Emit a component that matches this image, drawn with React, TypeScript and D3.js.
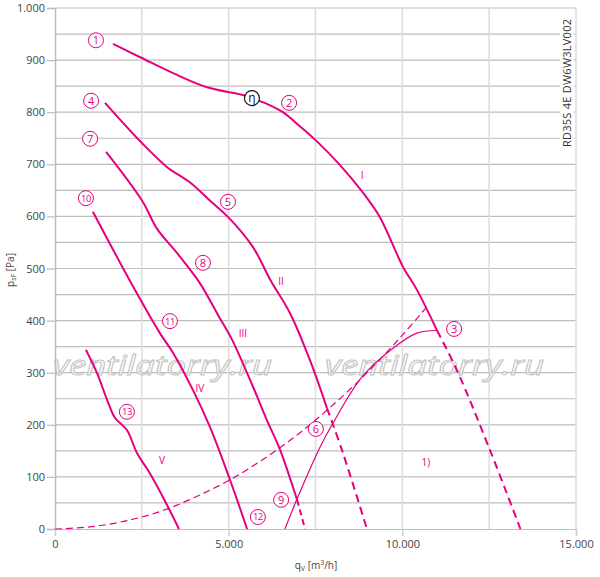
import { useEffect, useRef } from 'react';
import * as d3 from 'd3';

type Pt = [number, number];

// curve I (speed 1 -> 2 -> 3), solid part and dashed extension
const curveI: Pt[] = [[1670, 931], [2500, 904], [3400, 875], [4375, 848], [5410, 833], [5670, 827], [6100, 816], [6560, 800], [7050, 773], [7540, 744], [8200, 699], [8850, 647], [9350, 599], [9730, 545], [10020, 503], [10420, 459], [11000, 381]];
const curveIDash: Pt[] = [[11000, 381], [11570, 305], [12520, 152], [13400, 0]];
const curveII: Pt[] = [[1440, 818], [2500, 741], [3220, 695], [3890, 665], [4500, 628], [4980, 599], [5700, 541], [6200, 478], [6760, 415], [7340, 324], [7830, 232]];
const curveIIDash: Pt[] = [[7830, 232], [8290, 146], [8980, 0]];
const curveIII: Pt[] = [[1470, 724], [2500, 631], [2940, 576], [3510, 530], [4170, 472], [4700, 410], [5100, 363], [5700, 273], [6100, 209], [6480, 152], [6970, 56]];
const curveIIIDash: Pt[] = [[6970, 56], [7200, 0]];
const curveIV: Pt[] = [[1090, 609], [2300, 459], [3020, 376], [3400, 338], [3970, 267], [4460, 196], [5040, 94], [5530, 0]];
const curveV: Pt[] = [[890, 344], [1210, 299], [1500, 248], [1730, 213], [2070, 190], [2360, 146], [2730, 107], [3110, 61], [3570, 0]];
// system (parabola) line, dashed
const systemLine: Pt[] = [[0, 0], [1000, 4], [2000, 15], [3000, 33], [4000, 60], [5000, 93], [6000, 134], [7000, 182], [8000, 238], [9000, 301], [10000, 372], [10700, 426]];
// thin curve from 9 to 3
const limitLine: Pt[] = [[6620, 0], [6970, 58], [7630, 157], [8000, 203], [8840, 292], [9730, 347], [10420, 376], [11000, 381]];

const circleLabels: { t: string; x: number; y: number }[] = [
  { t: '1', x: 1180, y: 938 }, { t: '2', x: 6740, y: 818 }, { t: '3', x: 11490, y: 384 },
  { t: '4', x: 1040, y: 822 }, { t: '5', x: 4980, y: 628 }, { t: '6', x: 7510, y: 192 },
  { t: '7', x: 1010, y: 749 }, { t: '8', x: 4260, y: 511 }, { t: '9', x: 6510, y: 56 },
  { t: '10', x: 890, y: 635 }, { t: '11', x: 3310, y: 399 }, { t: '12', x: 5840, y: 23 },
  { t: '13', x: 2070, y: 225 },
];
const romanLabels: { t: string; x: number; y: number }[] = [
  { t: 'I', x: 8840, y: 678 }, { t: 'II', x: 6510, y: 476 }, { t: 'III', x: 5410, y: 376 },
  { t: 'IV', x: 4170, y: 269 }, { t: 'V', x: 3080, y: 131 }, { t: '1)', x: 10680, y: 127 },
];
const etaPoint: Pt = [5670, 827];

const yTicks = [0, 100, 200, 300, 400, 500, 600, 700, 800, 900, 1000];
const yTickLabels = ['0', '100', '200', '300', '400', '500', '600', '700', '800', '900', '1.000'];
const xTicks = [0, 5000, 10000, 15000];
const xTickLabels = ['0', '5.000', '10.000', '15.000'];

const MAGENTA = '#e5007d';
const FONT = '"Open Sans", sans-serif';

const App = () => {
  const ref = useRef<SVGSVGElement>(null);

  useEffect(() => {
    document.body.style.margin = '0';
    const svg = d3.select(ref.current);
    svg.selectAll('*').remove();

    const width = 600;
    const height = 577;
    const margin = { top: 8, right: 24, bottom: 48, left: 55 };

    const x = d3.scaleLinear().domain([0, 15000]).range([margin.left, width - margin.right]);
    const y = d3.scaleLinear().domain([0, 1000]).range([height - margin.bottom, margin.top]);

    svg.attr('width', width).attr('height', height).style('display', 'block');

    // horizontal grid every 50 Pa
    svg.append('g')
      .selectAll('line')
      .data(d3.range(50, 1001, 50))
      .enter()
      .append('line')
      .attr('x1', x(0))
      .attr('x2', x(15000))
      .attr('y1', (d) => y(d))
      .attr('y2', (d) => y(d))
      .attr('stroke', '#bdbdbd')
      .attr('stroke-width', 1.2);

    // vertical grid every 2500
    svg.append('g')
      .selectAll('line')
      .data(d3.range(2500, 15001, 2500))
      .enter()
      .append('line')
      .attr('x1', (d) => x(d))
      .attr('x2', (d) => x(d))
      .attr('y1', y(0))
      .attr('y2', y(1000))
      .attr('stroke', '#dcdcdc')
      .attr('stroke-width', 1.5);

    // watermark
    svg.append('g')
      .selectAll('text')
      .data([[53, 375], [325, 375]])
      .enter()
      .append('text')
      .attr('x', (d) => d[0])
      .attr('y', (d) => d[1])
      .attr('font-family', FONT)
      .attr('font-style', 'italic')
      .attr('font-size', 28)
      .attr('fill', 'white')
      .attr('fill-opacity', 0.6)
      .attr('stroke', '#c4c4c4')
      .attr('stroke-width', 1)
      .attr('textLength', 219)
      .attr('lengthAdjust', 'spacingAndGlyphs')
      .text('ventilatorry.ru');

    // axes
    const yAxis = d3.axisLeft(y)
      .tickValues(yTicks)
      .tickSize(8)
      .tickPadding(2)
      .tickFormat((_d, i) => yTickLabels[i]);
    const gy = svg.append('g').attr('transform', `translate(${margin.left},0)`).call(yAxis);
    gy.select('.domain').attr('stroke', '#bdbdbd').attr('stroke-width', 1.5);
    gy.selectAll('.tick line').attr('stroke', '#bdbdbd').attr('stroke-width', 1.2);
    gy.selectAll('.tick text').attr('font-family', FONT).attr('font-size', 11).attr('fill', '#444');

    const xAxis = d3.axisBottom(x)
      .tickValues(xTicks)
      .tickSize(7)
      .tickPadding(4)
      .tickFormat((_d, i) => xTickLabels[i]);
    const gx = svg.append('g').attr('transform', `translate(0,${y(0)})`).call(xAxis);
    gx.select('.domain').attr('stroke', '#bdbdbd').attr('stroke-width', 1.2);
    gx.selectAll('.tick line').attr('stroke', '#d0d0d0').attr('stroke-width', 1.5);
    gx.selectAll('.tick text').attr('font-family', FONT).attr('font-size', 11).attr('fill', '#444');

    // axis titles
    const xt = svg.append('text')
      .attr('x', 316)
      .attr('y', 569)
      .attr('text-anchor', 'middle')
      .attr('font-family', FONT)
      .attr('font-size', 10)
      .attr('fill', '#444');
    xt.append('tspan').text('q');
    xt.append('tspan').attr('font-size', 7).attr('dy', 2).text('V');
    xt.append('tspan').attr('dy', -2).text(' [m');
    xt.append('tspan').attr('font-size', 7).attr('dy', -4).text('3');
    xt.append('tspan').attr('dy', 4).text('/h]');

    const yt = svg.append('text')
      .attr('transform', 'translate(14,270) rotate(-90)')
      .attr('text-anchor', 'middle')
      .attr('font-family', FONT)
      .attr('font-size', 10)
      .attr('fill', '#444');
    yt.append('tspan').text('p');
    yt.append('tspan').attr('font-size', 7).attr('dy', 2).text('sF');
    yt.append('tspan').attr('dy', -2).text(' [Pa]');

    // type designation, vertical
    svg.append('rect')
      .attr('x', 560)
      .attr('y', 16)
      .attr('width', 14)
      .attr('height', 133)
      .attr('fill', 'white');
    svg.append('text')
      .attr('transform', 'translate(571,147) rotate(-90)')
      .attr('font-family', FONT)
      .attr('font-size', 11)
      .attr('fill', '#333')
      .attr('textLength', 128)
      .attr('lengthAdjust', 'spacing')
      .text('RD35S 4E DW6W3LV002');

    const line = d3.line<Pt>()
      .x((d) => x(d[0]))
      .y((d) => y(d[1]))
      .curve(d3.curveCatmullRom.alpha(0.5));

    const drawCurve = (pts: Pt[], w: number, dash: string | null) => {
      svg.append('path')
        .datum(pts)
        .attr('d', line)
        .attr('fill', 'none')
        .attr('stroke', MAGENTA)
        .attr('stroke-width', w)
        .attr('stroke-dasharray', dash);
    };

    drawCurve(systemLine, 1.2, '7,4');
    drawCurve(limitLine, 1.2, null);
    drawCurve(curveI, 2, null);
    drawCurve(curveIDash, 2, '8,5');
    drawCurve(curveII, 2, null);
    drawCurve(curveIIDash, 2, '8,5');
    drawCurve(curveIII, 2, null);
    drawCurve(curveIIIDash, 2, '6,4');
    drawCurve(curveIV, 2, null);
    drawCurve(curveV, 2, null);

    // circled point numbers
    const cl = svg.append('g')
      .selectAll('g')
      .data(circleLabels)
      .enter()
      .append('g')
      .attr('transform', (d) => `translate(${x(d.x)},${y(d.y)})`);
    cl.append('circle')
      .attr('r', 7.5)
      .attr('fill', 'white')
      .attr('stroke', MAGENTA)
      .attr('stroke-width', 1);
    cl.append('text')
      .attr('text-anchor', 'middle')
      .attr('dy', '0.36em')
      .attr('font-family', FONT)
      .attr('font-size', (d) => (d.t.length > 1 ? 9.5 : 11))
      .attr('letter-spacing', (d) => (d.t.length > 1 ? -0.5 : 0))
      .attr('fill', MAGENTA)
      .text((d) => d.t);

    // efficiency marker
    const eta = svg.append('g').attr('transform', `translate(${x(etaPoint[0])},${y(etaPoint[1])})`);
    eta.append('circle').attr('r', 7.5).attr('fill', 'white').attr('stroke', '#111').attr('stroke-width', 1.2);
    eta.append('text')
      .attr('text-anchor', 'middle')
      .attr('dy', '0.3em')
      .attr('font-family', FONT)
      .attr('font-size', 12)
      .attr('fill', '#111')
      .text('η');

    // roman speed labels
    svg.append('g')
      .selectAll('text')
      .data(romanLabels)
      .enter()
      .append('text')
      .attr('x', (d) => x(d.x))
      .attr('y', (d) => y(d.y))
      .attr('text-anchor', 'middle')
      .attr('dy', '0.36em')
      .attr('font-family', FONT)
      .attr('font-size', 10)
      .attr('fill', MAGENTA)
      .text((d) => d.t);
  }, []);

  return <svg ref={ref} />;
};

export default App;
